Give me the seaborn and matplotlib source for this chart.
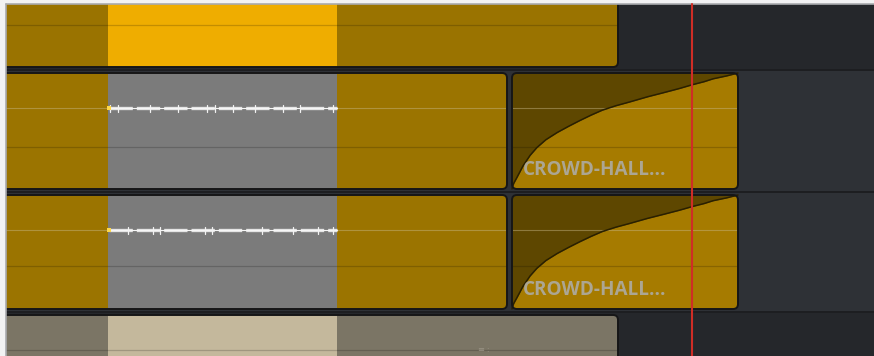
import numpy as np
import pandas as pd
import matplotlib
matplotlib.use("Agg")
import matplotlib.pyplot as plt
from matplotlib.patches import FancyBboxPatch, Rectangle
import seaborn as sns

# ---------------- data ----------------
tracks = ["V1", "A1", "A2", "A3"]
# clips: (track, start, end, name)
clip_track = ["V1", "A1", "A1", "A2", "A2", "A3"]
clip_start = [-10, -10, 512, -10, 512, -10]
clip_end = [618, 507, 738, 507, 738, 618]
clip_name = ["", "", "CROWD-HALL...", "", "CROWD-HALL...", ""]
clip_fade = [False, False, True, False, True, False]

# selected range on timeline
sel_start, sel_end = 108, 337
playhead = 691.5

# fade-in curve (fraction of clip width, fraction of clip height)
fade_x = [0.0, 0.002, 0.008, 0.022, 0.049, 0.08, 0.11, 0.15, 0.20, 0.25, 0.30, 0.35,
          0.40, 0.46, 0.52, 0.60, 0.67, 0.74, 0.80, 0.85, 0.89, 0.95, 1.0]
fade_y = [0.0, 0.02, 0.05, 0.10, 0.20, 0.29, 0.357, 0.425, 0.487, 0.54, 0.59, 0.637,
          0.68, 0.718, 0.75, 0.795, 0.83, 0.866, 0.90, 0.925, 0.95, 0.975, 1.0]

# waveform peak positions in selected (gray) region
wave_ticks_a1 = [110, 118, 150, 178, 207, 215, 233, 255, 283, 300, 333]
wave_ticks_a2 = [128, 153, 160, 205, 212, 262, 293, 318, 333]

# ---------------- layout / style ----------------
track_y0 = {"V1": 4, "A1": 70, "A2": 192, "A3": 312}
track_y1 = {"V1": 70, "A1": 192, "A2": 312, "A3": 356}
track_bg = {"V1": "#25272b", "A1": "#2e3136", "A2": "#2e3136", "A3": "#25272b"}
clip_top = {"V1": -10, "A1": 73, "A2": 195, "A3": 315}
clip_bot = {"V1": 67, "A1": 189, "A2": 309, "A3": 370}
base_col = {"V1": "#9a7300", "A1": "#9b7400", "A2": "#9b7400", "A3": "#7b7565"}
sel_col = {"V1": "#efad00", "A1": "#7b7b7b", "A2": "#7b7b7b", "A3": "#c4b89c"}
inner_line = {"V1": 25, "A1": 147, "A2": 266, "A3": 350}
wave_y = {"A1": 108, "A2": 230}

sns.set_theme(style="dark")
plt.rcParams["font.family"] = ["Open Sans", "DejaVu Sans"]

fig = plt.figure(figsize=(8.74, 3.56), dpi=100, facecolor="#ededee")
ax = fig.add_axes([0, 0, 1, 1])
ax.set_xlim(0, 874)
ax.set_ylim(356, 0)
ax.axis("off")
ax.set_facecolor("#ededee")

# track backgrounds
for t in tracks:
    ax.add_patch(Rectangle((6, track_y0[t]), 870, track_y1[t] - track_y0[t],
                           facecolor=track_bg[t], edgecolor="none", zorder=1))
for t in tracks[1:]:
    ax.plot([6, 874], [track_y0[t], track_y0[t]], color="#1d1e21", lw=1.4, zorder=1.5)

# clips
for t, s, e, name, fade in zip(clip_track, clip_start, clip_end, clip_name, clip_fade):
    y0, y1 = clip_top[t], clip_bot[t]
    col = "#a67b00" if fade else base_col[t]
    clip = FancyBboxPatch((s, y0), e - s, y1 - y0,
                          boxstyle="round,pad=0,rounding_size=5",
                          facecolor=col, edgecolor="none", zorder=2)
    ax.add_patch(clip)
    # selection overlay
    if s < sel_end and e > sel_start and not fade:
        r = Rectangle((sel_start, y0), sel_end - sel_start, y1 - y0,
                      facecolor=sel_col[t], edgecolor="none", zorder=2.1)
        ax.add_patch(r)
        r.set_clip_path(clip)
    # inner guide line
    ln, = ax.plot([s, e], [inner_line[t]] * 2, color="black", alpha=0.18, lw=0.9, zorder=2.3)
    ln.set_clip_path(clip)
    # fade region
    if fade:
        fx = s + np.array(fade_x) * (e - s)
        fy = y1 - np.array(fade_y) * (y1 - y0)
        poly = ax.fill_between(fx, fy, y0 - 2, color="#5e4700", zorder=2.2, lw=0)
        poly.set_clip_path(clip)
        sns.lineplot(x=fx, y=fy, ax=ax, color="#2a2000", lw=1.1, sort=False,
                     estimator=None, zorder=2.6)
        ax.text(s + 11, y1 - 14, name, color="#aca693", fontsize=13.6,
                fontweight="bold", ha="left", va="baseline", zorder=3)
    # waveform
    if t in wave_y:
        wy = wave_y[t]
        l1, = ax.plot([s, e], [wy, wy], color="#c9b98a", alpha=0.45, lw=0.8, zorder=2.4)
        l1.set_clip_path(clip)
        if not fade:
            ax.plot([sel_start + 1, sel_end], [wy, wy], color="#e4e4e4", lw=2.4,
                    dashes=(7, 1.2), solid_capstyle="butt", zorder=2.5)
            ax.plot([sel_start + 1, sel_end], [wy, wy], color="#f6f6f6", lw=0.8, zorder=2.55)
            ticks = wave_ticks_a1 if t == "A1" else wave_ticks_a2
            for xt in ticks:
                ax.plot([xt, xt], [wy - 3.5, wy + 3.5], color="#f2f2f2", lw=0.9, zorder=2.6)
            ax.plot([sel_start + 0.5], [wy], marker="s", ms=2.5, color="#ffd84a", zorder=2.7, mew=0)
    # clip outline
    ax.add_patch(FancyBboxPatch((s, y0), e - s, y1 - y0,
                                boxstyle="round,pad=0,rounding_size=5",
                                facecolor="none", edgecolor="#161617", lw=1.4, zorder=2.8))

# small icon on bottom clip
ax.text(478, 350, "\u2261 :", color="#9a9486", fontsize=6, ha="left", va="center", zorder=3)

# borders
ax.add_patch(Rectangle((0, 0), 6, 356, facecolor="#f2f2f3", edgecolor="none", zorder=5))
ax.add_patch(Rectangle((0, 0), 874, 3.5, facecolor="#f2f2f3", edgecolor="none", zorder=5))
ax.plot([6, 6], [3.5, 356], color="#a9aaae", lw=1.2, zorder=5.5)
ax.plot([6, 874], [3.5, 3.5], color="#a9aaae", lw=1.2, zorder=5.5)

# playhead
sns.lineplot(x=[playhead, playhead], y=[3.5, 356], ax=ax, color="#cf2d26", lw=1.5,
             estimator=None, sort=False, zorder=6)

fig.savefig("out.png", dpi=100, facecolor=fig.get_facecolor())
